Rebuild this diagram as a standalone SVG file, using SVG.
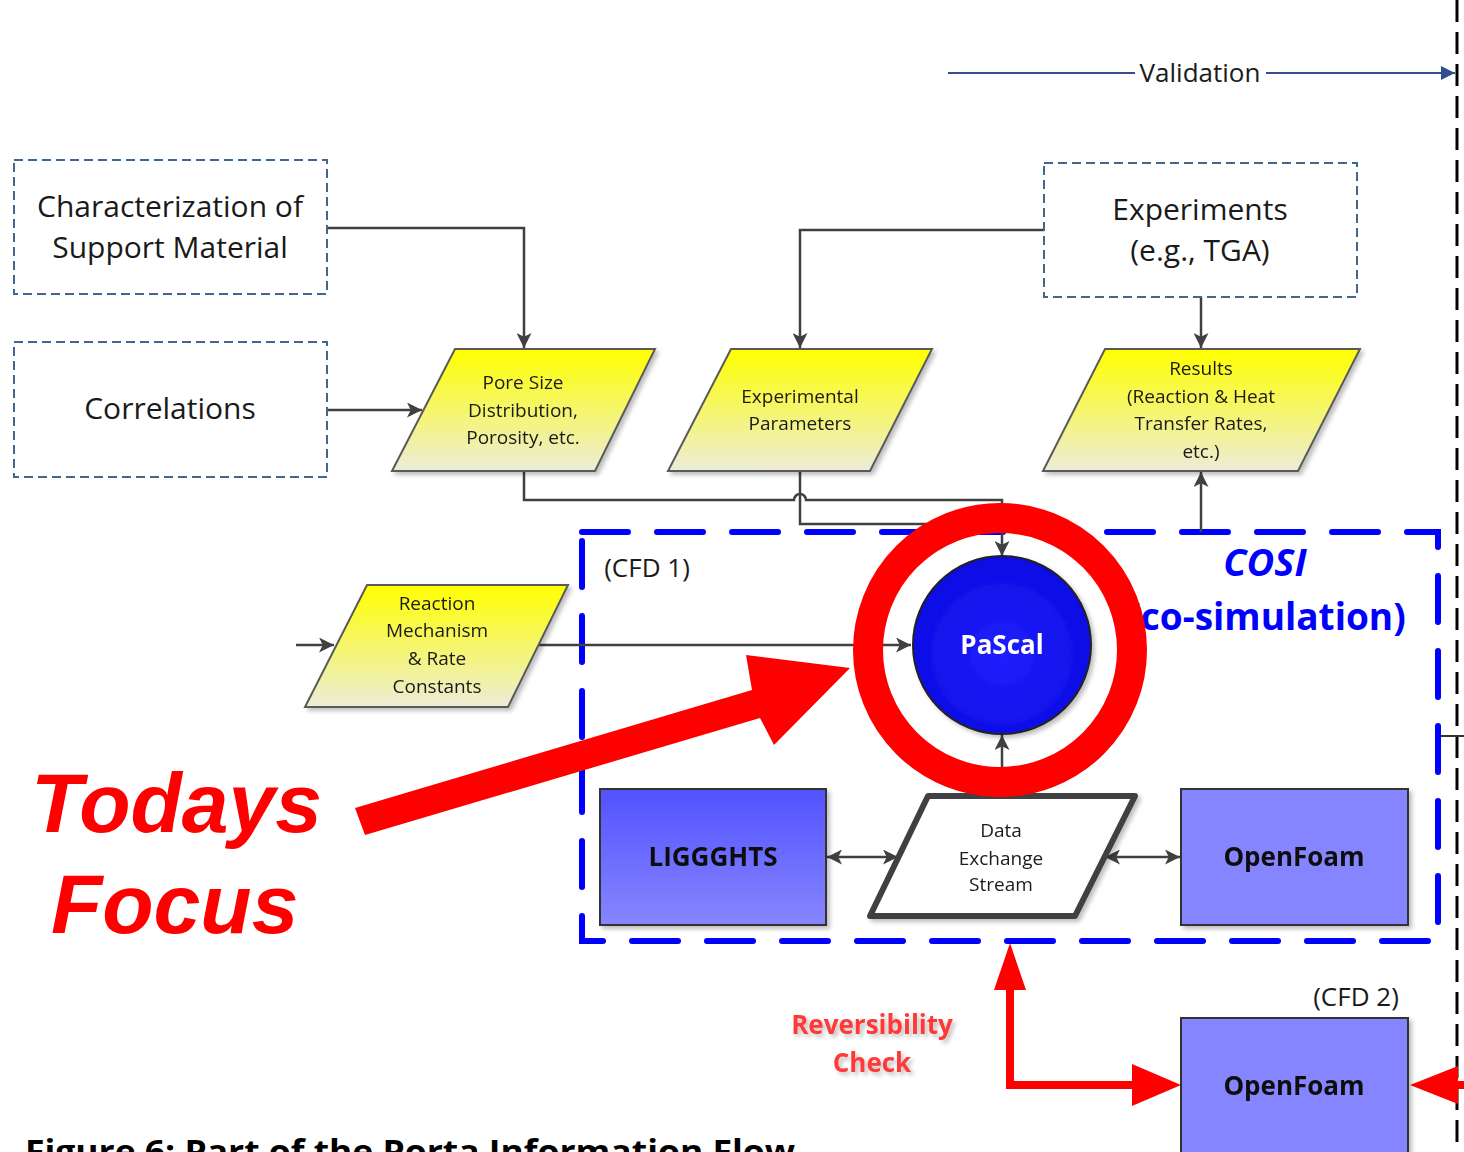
<svg xmlns="http://www.w3.org/2000/svg" width="1464" height="1152" viewBox="0 0 1464 1152">
<style>
.t{font-family:"Open Sans","Noto Sans",sans-serif;fill:#1a1a1a;text-anchor:middle}
.src{fill:#fff;stroke:#41668f;stroke-width:2;stroke-dasharray:9 5}
.para{fill:url(#yel);stroke:#5a5a5a;stroke-width:2}
.conn{fill:none;stroke:#404040;stroke-width:2.5}
.blk{stroke:#333;stroke-width:2}
</style>
<defs>
<linearGradient id="yel" x1="0" y1="0" x2="0" y2="1"><stop offset="0" stop-color="#ffff00"/><stop offset="1" stop-color="#ececd8"/></linearGradient>
<linearGradient id="lig" x1="0" y1="0" x2="0" y2="1"><stop offset="0" stop-color="#5252ff"/><stop offset="1" stop-color="#8686ff"/></linearGradient>
<radialGradient id="pas" cx="0.5" cy="0.55" r="0.6"><stop offset="0" stop-color="#2020ff"/><stop offset="1" stop-color="#0a0ae0"/></radialGradient>
<marker id="ar" viewBox="0 0 10 10" refX="10" refY="5" markerWidth="16" markerHeight="15" markerUnits="userSpaceOnUse" orient="auto-start-reverse"><path d="M0,0L10,5L0,10L2.5,5z" fill="#404040"/></marker>
<marker id="arb" viewBox="0 0 10 10" refX="10" refY="5" markerWidth="20" markerHeight="14" markerUnits="userSpaceOnUse" orient="auto"><path d="M0,0L10,5L0,10z" fill="#2f528f"/></marker>
<filter id="sh" x="-10%" y="-10%" width="130%" height="130%"><feDropShadow dx="3" dy="3" stdDeviation="2" flood-color="#000" flood-opacity="0.25"/></filter>
</defs>

<!-- vertical dashed boundary -->
<line x1="1457" y1="0" x2="1457" y2="1152" stroke="#000" stroke-width="3" stroke-dasharray="22 10"/>
<line x1="1435" y1="736" x2="1464" y2="736" stroke="#333" stroke-width="2"/>

<!-- COSI container -->
<g id="cosi">
<rect x="582" y="532" width="856" height="409" fill="none" stroke="#0000ff" stroke-width="6" stroke-dasharray="46 29" stroke-linecap="round"/>
<text class="t" x="647" y="577" font-size="26">(CFD 1)</text>
<text class="t" x="1265" y="576" font-size="38" font-weight="bold" font-style="italic" style="fill:#0000ff">COSI</text>
<text class="t" x="1267" y="630" font-size="37" font-weight="bold" style="fill:#0000ff">(co-simulation)</text>
</g>

<!-- connectors -->
<g id="connectors">
<line x1="948" y1="73" x2="1135" y2="73" stroke="#2f528f" stroke-width="2"/>
<line x1="1266" y1="73" x2="1455" y2="73" stroke="#2f528f" stroke-width="2" marker-end="url(#arb)"/>
<text class="t" x="1200" y="82" font-size="26">Validation</text>
<path class="conn" d="M327,228H524V348" marker-end="url(#ar)"/>
<path class="conn" d="M327,410H422" marker-end="url(#ar)"/>
<path class="conn" d="M1044,230H800V348" marker-end="url(#ar)"/>
<path class="conn" d="M1201,297V348" marker-end="url(#ar)"/>
<path class="conn" d="M524,471V500H794A6,6 0 0 1 806,500H1002V556" marker-end="url(#ar)"/>
<path class="conn" d="M800,471V524H1002"/>
<path class="conn" d="M1201,532V472" marker-end="url(#ar)"/>
<path class="conn" d="M296,645H334" marker-end="url(#ar)"/>
<path class="conn" d="M538,645H911" marker-end="url(#ar)"/>
<path class="conn" d="M1002,796V735" marker-end="url(#ar)"/>
<path class="conn" d="M827,857H898" marker-start="url(#ar)" marker-end="url(#ar)"/>
<path class="conn" d="M1105,857H1180" marker-start="url(#ar)" marker-end="url(#ar)"/>
<!-- red reversibility connector -->
<path d="M1010,988V1085H1140" fill="none" stroke="#ff0000" stroke-width="8"/>
<polygon points="1010,943 994,990 1026,990" fill="#ff0000"/>
<polygon points="1181,1085 1132,1064 1132,1106" fill="#ff0000"/>
<polygon points="1410,1085 1458,1066 1458,1104" fill="#ff0000"/>
<line x1="1455" y1="1085" x2="1464" y2="1085" stroke="#ff0000" stroke-width="8"/>
</g>

<g id="n-char">
<rect class="src" x="14" y="160" width="313" height="134"/>
<text class="t" x="170" y="217" font-size="30">Characterization of</text>
<text class="t" x="170" y="258" font-size="30">Support Material</text>
</g>
<g id="n-corr">
<rect class="src" x="14" y="342" width="313" height="135"/>
<text class="t" x="170" y="419" font-size="30">Correlations</text>
</g>
<g id="n-exp">
<rect class="src" x="1044" y="163" width="313" height="134"/>
<text class="t" x="1200" y="220" font-size="30">Experiments</text>
<text class="t" x="1200" y="261" font-size="30">(e.g., TGA)</text>
</g>

<g id="n-pore" filter="url(#sh)">
<polygon class="para" points="455,349 655,349 595,471 392,471"/>
<text class="t" x="523" y="389" font-size="19">Pore Size</text>
<text class="t" x="523" y="417" font-size="19">Distribution,</text>
<text class="t" x="523" y="444" font-size="19">Porosity, etc.</text>
</g>
<g id="n-expparam" filter="url(#sh)">
<polygon class="para" points="731,349 932,349 870,471 668,471"/>
<text class="t" x="800" y="403" font-size="19">Experimental</text>
<text class="t" x="800" y="430" font-size="19">Parameters</text>
</g>
<g id="n-results" filter="url(#sh)">
<polygon class="para" points="1105,349 1360,349 1298,471 1043,471"/>
<text class="t" x="1201" y="375" font-size="19">Results</text>
<text class="t" x="1201" y="403" font-size="19">(Reaction &amp; Heat</text>
<text class="t" x="1201" y="430" font-size="19">Transfer Rates,</text>
<text class="t" x="1201" y="458" font-size="19">etc.)</text>
</g>
<g id="n-react" filter="url(#sh)">
<polygon class="para" points="367,585 568,585 508,707 305,707"/>
<text class="t" x="437" y="610" font-size="19">Reaction</text>
<text class="t" x="437" y="637" font-size="19">Mechanism</text>
<text class="t" x="437" y="665" font-size="19">&amp; Rate</text>
<text class="t" x="437" y="693" font-size="19">Constants</text>
</g>

<g id="n-pascal" filter="url(#sh)">
<circle cx="1002" cy="645" r="89" fill="url(#pas)" stroke="#222" stroke-width="2"/>
<text class="t" x="1002" y="654" font-size="26" font-weight="bold" style="fill:#fff">PaScal</text>
</g>

<g id="n-data" filter="url(#sh)">
<polygon points="928,796 1135,796 1075,916 870,916" fill="#fff" stroke="#404040" stroke-width="6" stroke-linejoin="round"/>
<text class="t" x="1001" y="837" font-size="19">Data</text>
<text class="t" x="1001" y="865" font-size="19">Exchange</text>
<text class="t" x="1001" y="891" font-size="19">Stream</text>
</g>

<g id="n-liggghts" filter="url(#sh)">
<rect class="blk" x="600" y="789" width="226" height="136" fill="url(#lig)"/>
<text class="t" x="713" y="866" font-size="26" font-weight="bold" style="fill:#111">LIGGGHTS</text>
</g>
<g id="n-openfoam1" filter="url(#sh)">
<rect class="blk" x="1181" y="789" width="227" height="136" fill="#8585ff"/>
<text class="t" x="1294" y="866" font-size="26" font-weight="bold" style="fill:#111">OpenFoam</text>
</g>
<g id="n-openfoam2" filter="url(#sh)">
<rect class="blk" x="1181" y="1018" width="227" height="150" fill="#8585ff"/>
<text class="t" x="1294" y="1095" font-size="26" font-weight="bold" style="fill:#111">OpenFoam</text>
</g>
<text class="t" x="1356" y="1006" font-size="26">(CFD 2)</text>

<g id="revcheck" filter="url(#sh)">
<text class="t" x="872" y="1034" font-size="26" font-weight="bold" style="fill:#ff3838">Reversibility</text>
<text class="t" x="872" y="1072" font-size="26" font-weight="bold" style="fill:#ff3838">Check</text>
</g>

<!-- Today's focus highlight -->
<g id="focus">
<circle cx="1000" cy="650" r="132" fill="none" stroke="#ff0000" stroke-width="30"/>
<polygon points="355,808 752,690 746,655 850,668 774,745 760,718 365,835" fill="#ff0000"/>
<text x="31" y="832" font-family="Liberation Sans, Arial, sans-serif" font-size="84" font-weight="bold" font-style="italic" fill="#ff0000">Todays</text>
<text x="51" y="933" font-family="Liberation Sans, Arial, sans-serif" font-size="84" font-weight="bold" font-style="italic" fill="#ff0000">Focus</text>
</g>

<text x="25" y="1163" font-family="Open Sans, sans-serif" font-size="33" font-weight="bold" fill="#000" textLength="770" lengthAdjust="spacingAndGlyphs">Figure 6: Part of the Porta Information Flow</text>
</svg>
